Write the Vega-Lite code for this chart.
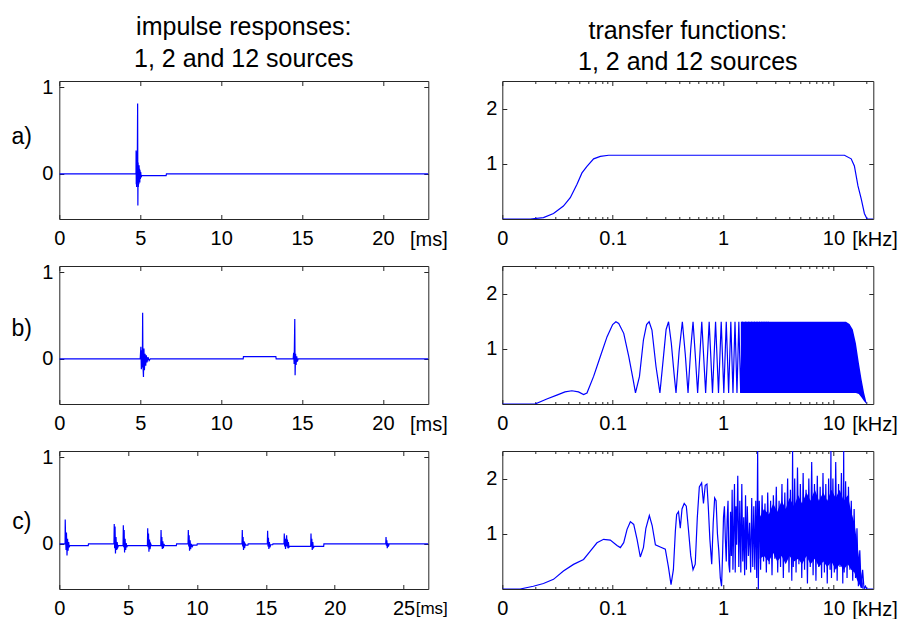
{
"$schema": "https://vega.github.io/schema/vega-lite/v6.json",
"autosize": {"type": "none"},
"padding": {"left": 59.3, "top": 81, "right": 841.7, "bottom": 538},
"bounds": "flush",
"columns": 2,
"spacing": {"row": 47, "column": 74},
"config": {
  "view": {"stroke": "#262626", "strokeWidth": 1},
  "font": "Liberation Sans",
  "axis": {"grid": false, "domain": false, "ticks": true, "tickColor": "#262626", "tickSize": -4.5, "tickWidth": 1,
    "labelFont": "Liberation Sans", "labelFontSize": 20, "labelColor": "#000", "labelPadding": 11, "labelFlush": false, "labelOverlap": false,
    "titleFont": "Liberation Sans", "titleFontWeight": "normal", "titleColor": "#000", "titleFontSize": 20},
  "axisX": {"labelPadding": 14},
  "title": {"font": "Liberation Sans", "fontSize": 25, "fontWeight": "normal", "color": "#000", "lineHeight": 31.7, "offset": 5, "anchor": "middle"}
},
"datasets": {
"ir1": [{"t":0,"v":0},{"t":4.74,"v":0},{"t":4.745,"v":0.27},{"t":4.755,"v":-0.12},{"t":4.765,"v":0.25},{"t":4.775,"v":-0.15},{"t":4.785,"v":0.2},{"t":4.8,"v":-0.1},{"t":4.82,"v":0.15},{"t":4.84,"v":0.81},{"t":4.855,"v":-0.365},{"t":4.87,"v":0.13},{"t":4.885,"v":-0.15},{"t":4.9,"v":0.1},{"t":4.915,"v":-0.12},{"t":4.93,"v":0.1},{"t":4.945,"v":-0.08},{"t":4.96,"v":0.06},{"t":4.975,"v":-0.1},{"t":4.99,"v":0.04},{"t":5.01,"v":-0.06},{"t":5.03,"v":0.02},{"t":5.06,"v":-0.04},{"t":5.09,"v":-0.02},{"t":6.6,"v":-0.02},{"t":6.62,"v":0},{"t":22.8,"v":0}],
"ir2": [{"t":0,"v":0},{"t":5.0,"v":0},{"t":5.04,"v":0.14},{"t":5.07,"v":-0.12},{"t":5.1,"v":0.1},{"t":5.13,"v":-0.1},{"t":5.15,"v":0.53},{"t":5.17,"v":-0.08},{"t":5.2,"v":-0.21},{"t":5.23,"v":0.12},{"t":5.26,"v":-0.13},{"t":5.3,"v":0.06},{"t":5.34,"v":-0.08},{"t":5.38,"v":0.04},{"t":5.42,"v":-0.04},{"t":5.48,"v":0.02},{"t":5.55,"v":-0.02},{"t":5.62,"v":0},{"t":11.36,"v":0},{"t":11.38,"v":0.027},{"t":13.38,"v":0.027},{"t":13.4,"v":0},{"t":14.45,"v":0},{"t":14.48,"v":0.07},{"t":14.51,"v":-0.06},{"t":14.55,"v":0.46},{"t":14.57,"v":-0.19},{"t":14.6,"v":0.06},{"t":14.63,"v":-0.07},{"t":14.67,"v":0.03},{"t":14.71,"v":-0.03},{"t":14.76,"v":0},{"t":22.8,"v":0}],
"ir12": [{"t":0,"v":0},{"t":0.42,"v":0},{"t":0.43,"v":0.28},{"t":0.46,"v":0.05},{"t":0.49,"v":-0.07},{"t":0.52,"v":0.13},{"t":0.56,"v":-0.135},{"t":0.6,"v":0.06},{"t":0.64,"v":-0.08},{"t":0.68,"v":0.02},{"t":0.72,"v":-0.04},{"t":0.76,"v":-0.02},{"t":2.1,"v":-0.02},{"t":2.12,"v":0},{"t":3.97,"v":0},{"t":3.99,"v":0.23},{"t":4.02,"v":-0.05},{"t":4.05,"v":0.2},{"t":4.08,"v":-0.11},{"t":4.12,"v":0.08},{"t":4.16,"v":-0.07},{"t":4.2,"v":0.02},{"t":4.25,"v":-0.04},{"t":4.3,"v":-0.02},{"t":4.63,"v":-0.02},{"t":4.65,"v":0.215},{"t":4.68,"v":-0.04},{"t":4.71,"v":0.16},{"t":4.74,"v":-0.1},{"t":4.78,"v":0.06},{"t":4.82,"v":-0.07},{"t":4.86,"v":0.01},{"t":4.9,"v":-0.04},{"t":4.95,"v":-0.02},{"t":6.4,"v":-0.02},{"t":6.42,"v":0.18},{"t":6.45,"v":-0.04},{"t":6.48,"v":0.12},{"t":6.51,"v":-0.09},{"t":6.55,"v":0.05},{"t":6.59,"v":-0.06},{"t":6.64,"v":0},{"t":6.69,"v":-0.02},{"t":7.37,"v":-0.02},{"t":7.39,"v":0.16},{"t":7.42,"v":-0.03},{"t":7.45,"v":0.08},{"t":7.48,"v":-0.06},{"t":7.52,"v":0.03},{"t":7.56,"v":-0.05},{"t":7.6,"v":0},{"t":7.65,"v":-0.02},{"t":8.5,"v":-0.02},{"t":8.52,"v":0},{"t":9.35,"v":0},{"t":9.37,"v":0.16},{"t":9.4,"v":-0.03},{"t":9.43,"v":0.1},{"t":9.46,"v":-0.08},{"t":9.5,"v":0.04},{"t":9.54,"v":-0.06},{"t":9.6,"v":0},{"t":9.66,"v":-0.03},{"t":9.72,"v":-0.015},{"t":10.0,"v":-0.015},{"t":10.02,"v":0},{"t":13.27,"v":0},{"t":13.29,"v":0.16},{"t":13.32,"v":-0.03},{"t":13.35,"v":0.08},{"t":13.38,"v":-0.07},{"t":13.42,"v":0.03},{"t":13.46,"v":-0.05},{"t":13.5,"v":0},{"t":13.55,"v":-0.015},{"t":13.7,"v":-0.015},{"t":13.72,"v":0},{"t":15.11,"v":0},{"t":15.13,"v":0.15},{"t":15.16,"v":-0.03},{"t":15.19,"v":0.07},{"t":15.22,"v":-0.06},{"t":15.26,"v":0.02},{"t":15.3,"v":-0.04},{"t":15.35,"v":-0.01},{"t":15.5,"v":-0.01},{"t":15.52,"v":0},{"t":16.32,"v":0},{"t":16.34,"v":0.12},{"t":16.37,"v":-0.03},{"t":16.4,"v":0.06},{"t":16.43,"v":-0.06},{"t":16.51,"v":0.1},{"t":16.54,"v":-0.03},{"t":16.57,"v":0.05},{"t":16.6,"v":-0.05},{"t":16.64,"v":0.02},{"t":16.68,"v":-0.04},{"t":16.73,"v":-0.03},{"t":18.26,"v":-0.03},{"t":18.28,"v":0.12},{"t":18.31,"v":-0.03},{"t":18.34,"v":0.06},{"t":18.37,"v":-0.07},{"t":18.41,"v":0.02},{"t":18.45,"v":-0.05},{"t":18.5,"v":-0.03},{"t":19.2,"v":-0.03},{"t":19.22,"v":0},{"t":23.71,"v":0},{"t":23.73,"v":0.08},{"t":23.76,"v":-0.02},{"t":23.79,"v":0.04},{"t":23.82,"v":-0.05},{"t":23.86,"v":0.01},{"t":23.9,"v":-0.03},{"t":23.96,"v":0},{"t":26.8,"v":0}],
"tf1": [{"f":0.01,"v":0},{"f":0.0179,"v":0},{"f":0.0236,"v":0.024},{"f":0.0291,"v":0.1},{"f":0.0358,"v":0.235},{"f":0.0413,"v":0.385},{"f":0.0474,"v":0.625},{"f":0.0527,"v":0.835},{"f":0.0585,"v":0.955},{"f":0.0672,"v":1.09},{"f":0.0773,"v":1.135},{"f":0.092,"v":1.155},{"f":12.6,"v":1.155},{"f":14.5,"v":1.09},{"f":15.5,"v":0.96},{"f":16.7,"v":0.6},{"f":17.9,"v":0.36},{"f":19.1,"v":0.1},{"f":20.2,"v":0},{"f":23,"v":0}],
"tf2": [{"f":0.01,"v":0},{"f":0.0198,"v":0},{"f":0.0253,"v":0.09},{"f":0.0312,"v":0.16},{"f":0.037,"v":0.22},{"f":0.0427,"v":0.24},{"f":0.049,"v":0.22},{"f":0.0545,"v":0.17},{"f":0.0585,"v":0.2},{"f":0.0672,"v":0.5},{"f":0.0773,"v":0.86},{"f":0.089,"v":1.22},{"f":0.1,"v":1.44},{"f":0.107,"v":1.49},{"f":0.1135,"v":1.46},{"f":0.126,"v":1.28},{"f":0.14,"v":0.86},{"f":0.153,"v":0.45},{"f":0.161,"v":0.2},{"f":0.175,"v":0.5},{"f":0.19,"v":1.16},{"f":0.203,"v":1.44},{"f":0.214,"v":1.49},{"f":0.227,"v":1.34},{"f":0.247,"v":0.68},{"f":0.268,"v":0.2},{"f":0.29,"v":0.9},{"f":0.305,"v":1.35},{"f":0.321,"v":1.49},{"f":0.34,"v":1.1},{"f":0.36,"v":0.55},{"f":0.375,"v":0.2},{"f":0.4,"v":0.95},{"f":0.428,"v":1.49},{"f":0.455,"v":0.9},{"f":0.482,"v":0.2},{"f":0.51,"v":1.0},{"f":0.535,"v":1.49},{"f":0.56,"v":0.9},{"f":0.589,"v":0.2},{"f":0.642,"v":1.49},{"f":0.696,"v":0.2},{"f":0.749,"v":1.49},{"f":0.803,"v":0.2},{"f":0.856,"v":1.49},{"f":0.91,"v":0.2},{"f":0.963,"v":1.49},{"f":1.017,"v":0.2},{"f":1.07,"v":1.49},{"f":1.124,"v":0.2},{"f":1.177,"v":1.49},{"f":1.231,"v":0.2},{"f":1.284,"v":1.49},{"f":1.338,"v":0.2},{"f":1.391,"v":1.49},{"f":1.445,"v":0.2},{"f":1.498,"v":1.49},{"f":1.552,"v":0.2},{"f":1.605,"v":1.49},{"f":1.659,"v":0.2},{"f":1.712,"v":1.49},{"f":1.766,"v":0.2},{"f":1.819,"v":1.49},{"f":1.873,"v":0.2},{"f":1.926,"v":1.49},{"f":1.98,"v":0.2},{"f":2.033,"v":1.49},{"f":2.087,"v":0.2},{"f":2.14,"v":1.49},{"f":2.194,"v":0.2},{"f":2.247,"v":1.49},{"f":2.301,"v":0.2},{"f":2.354,"v":1.49},{"f":2.408,"v":0.2},{"f":2.461,"v":1.49},{"f":2.515,"v":0.2},{"f":2.568,"v":1.49},{"f":2.622,"v":0.2}],
"tf2band": [{"f":1.45,"lo":0.2,"hi":1.49},{"f":13.0,"lo":0.2,"hi":1.49},{"f":14.0,"lo":0.2,"hi":1.45},{"f":15.0,"lo":0.2,"hi":1.35},{"f":16.0,"lo":0.2,"hi":1.1},{"f":17.0,"lo":0.18,"hi":0.75},{"f":18.0,"lo":0.12,"hi":0.45},{"f":19.0,"lo":0.05,"hi":0.2},{"f":20.0,"lo":0,"hi":0.02}],
"tf12band": [{"f":2.15,"lo":0.55,"hi":1.3},{"f":2.35,"lo":0.6,"hi":1.45},{"f":2.6,"lo":0.5,"hi":1.35},{"f":2.85,"lo":0.65,"hi":1.55},{"f":3.1,"lo":0.5,"hi":1.4},{"f":3.4,"lo":0.6,"hi":1.6},{"f":3.7,"lo":0.45,"hi":1.45},{"f":4.0,"lo":0.6,"hi":1.65},{"f":4.4,"lo":0.5,"hi":1.5},{"f":4.8,"lo":0.55,"hi":1.7},{"f":5.2,"lo":0.45,"hi":1.55},{"f":5.7,"lo":0.6,"hi":1.75},{"f":6.2,"lo":0.45,"hi":1.6},{"f":6.8,"lo":0.55,"hi":1.8},{"f":7.4,"lo":0.4,"hi":1.6},{"f":8.1,"lo":0.5,"hi":1.75},{"f":8.8,"lo":0.4,"hi":1.6},{"f":9.6,"lo":0.5,"hi":1.8},{"f":10.5,"lo":0.35,"hi":1.65},{"f":11.4,"lo":0.45,"hi":1.8},{"f":12.4,"lo":0.35,"hi":1.6},{"f":13.5,"lo":0.45,"hi":1.7},{"f":14.5,"lo":0.35,"hi":1.4},{"f":15.5,"lo":0.3,"hi":1.2},{"f":16.5,"lo":0.15,"hi":0.8},{"f":17.5,"lo":0.05,"hi":0.4},{"f":18.5,"lo":0,"hi":0.1}],
"tf12": [{"f":0.01,"v":0},{"f":0.0145,"v":0},{"f":0.0191,"v":0.05},{"f":0.0236,"v":0.1},{"f":0.0291,"v":0.175},{"f":0.0358,"v":0.325},{"f":0.0442,"v":0.446},{"f":0.0545,"v":0.536},{"f":0.0627,"v":0.687},{"f":0.0721,"v":0.837},{"f":0.0828,"v":0.9},{"f":0.0952,"v":0.886},{"f":0.1095,"v":0.789},{"f":0.1174,"v":0.75},{"f":0.1259,"v":0.84},{"f":0.135,"v":1.08},{"f":0.1447,"v":1.22},{"f":0.1552,"v":1.17},{"f":0.1664,"v":0.9},{"f":0.178,"v":0.58},{"f":0.19,"v":0.75},{"f":0.2,"v":1.1},{"f":0.215,"v":1.33},{"f":0.228,"v":1.15},{"f":0.244,"v":0.8},{"f":0.27,"v":0.76},{"f":0.3,"v":0.72},{"f":0.32,"v":0.4},{"f":0.338,"v":0.08},{"f":0.355,"v":0.35},{"f":0.37,"v":1.05},{"f":0.38,"v":1.35},{"f":0.395,"v":1.4},{"f":0.41,"v":1.1},{"f":0.425,"v":1.45},{"f":0.445,"v":1.55},{"f":0.465,"v":1.5},{"f":0.485,"v":1.1},{"f":0.51,"v":0.6},{"f":0.535,"v":0.35},{"f":0.56,"v":0.45},{"f":0.585,"v":1.3},{"f":0.61,"v":1.85},{"f":0.64,"v":1.92},{"f":0.665,"v":1.55},{"f":0.69,"v":1.88},{"f":0.715,"v":1.9},{"f":0.735,"v":1.5},{"f":0.76,"v":0.9},{"f":0.79,"v":0.45},{"f":0.815,"v":1.2},{"f":0.84,"v":1.65},{"f":0.865,"v":1.6},{"f":0.89,"v":1.0},{"f":0.915,"v":0.7},{"f":0.945,"v":0.2},{"f":0.97,"v":0.05},{"f":0.99,"v":0.6},{"f":1.01,"v":1.3},{"f":1.03,"v":1.5},{"f":1.05,"v":0.9},{"f":1.07,"v":0.5},{"f":1.09,"v":1.25},{"f":1.11,"v":1.6},{"f":1.13,"v":0.45},{"f":1.15,"v":0.3},{"f":1.17,"v":1.4},{"f":1.19,"v":0.6},{"f":1.21,"v":1.8},{"f":1.23,"v":0.35},{"f":1.25,"v":1.1},{"f":1.27,"v":1.9},{"f":1.29,"v":0.3},{"f":1.31,"v":1.5},{"f":1.33,"v":0.8},{"f":1.36,"v":2.05},{"f":1.39,"v":0.4},{"f":1.42,"v":1.6},{"f":1.45,"v":0.3},{"f":1.48,"v":1.9},{"f":1.51,"v":0.5},{"f":1.54,"v":1.3},{"f":1.57,"v":0.25},{"f":1.6,"v":1.7},{"f":1.63,"v":0.35},{"f":1.66,"v":1.5},{"f":1.7,"v":0.6},{"f":1.74,"v":1.2},{"f":1.78,"v":0.3},{"f":1.82,"v":1.65},{"f":1.86,"v":0.4},{"f":1.9,"v":1.5},{"f":1.94,"v":0.35},{"f":1.98,"v":1.6},{"f":2.02,"v":0.2},{"f":2.06,"v":2.5},{"f":2.09,"v":0},{"f":2.13,"v":1.6},{"f":2.19,"v":0.35},{"f":2.26,"v":1.7},{"f":2.33,"v":0.5},{"f":2.4,"v":1.55},{"f":2.47,"v":0.3},{"f":2.54,"v":1.75},{"f":2.62,"v":0.45},{"f":2.7,"v":1.6},{"f":2.78,"v":0.25},{"f":2.86,"v":1.7},{"f":2.95,"v":0.55},{"f":3.04,"v":1.85},{"f":3.13,"v":0.3},{"f":3.22,"v":1.6},{"f":3.32,"v":0.4},{"f":3.42,"v":1.9},{"f":3.52,"v":0.2},{"f":3.63,"v":1.75},{"f":3.73,"v":0.5},{"f":3.85,"v":2.0},{"f":3.96,"v":0.3},{"f":4.08,"v":1.8},{"f":4.2,"v":0.15},{"f":4.27,"v":2.5},{"f":4.33,"v":0.4},{"f":4.46,"v":2.0},{"f":4.59,"v":0.3},{"f":4.73,"v":2.2},{"f":4.87,"v":0.45},{"f":5.02,"v":1.9},{"f":5.17,"v":0.2},{"f":5.32,"v":2.1},{"f":5.48,"v":0.35},{"f":5.65,"v":1.8},{"f":5.82,"v":0.1},{"f":5.99,"v":2.0},{"f":6.17,"v":0.4},{"f":6.36,"v":2.3},{"f":6.55,"v":0.25},{"f":6.74,"v":1.9},{"f":6.95,"v":0.15},{"f":7.15,"v":2.05},{"f":7.37,"v":0.4},{"f":7.59,"v":1.85},{"f":7.82,"v":0.2},{"f":8.05,"v":2.1},{"f":8.29,"v":0.3},{"f":8.54,"v":1.9},{"f":8.8,"v":0.1},{"f":9.06,"v":2.0},{"f":9.33,"v":0.35},{"f":9.5,"v":2.5},{"f":9.61,"v":0.2},{"f":9.9,"v":2.0},{"f":10.2,"v":0.3},{"f":10.5,"v":2.3},{"f":10.82,"v":0.15},{"f":11.14,"v":1.9},{"f":11.48,"v":0.4},{"f":11.82,"v":2.1},{"f":12.17,"v":0.1},{"f":12.4,"v":2.5},{"f":12.54,"v":0.3},{"f":12.91,"v":1.95},{"f":13.3,"v":0.2},{"f":13.7,"v":1.85},{"f":14.11,"v":0.35},{"f":14.53,"v":1.6},{"f":14.97,"v":0.15},{"f":15.42,"v":1.45},{"f":15.88,"v":0.2},{"f":16.36,"v":1.1},{"f":16.85,"v":0.05},{"f":17.35,"v":0.7},{"f":17.87,"v":0.02},{"f":18.41,"v":0.35},{"f":18.96,"v":0},{"f":19.53,"v":0.05},{"f":20.0,"v":0},{"f":23,"v":0}]
},
"concat": [
{
  "width": 369, "height": 138,
  "title": {"text": ["impulse responses:", "1, 2 and 12 sources"]},
  "layer": [
    {"data": {"name": "ir1"}, "mark": {"type": "line", "color": "#0000ff", "strokeWidth": 1.2, "clip": true},
     "encoding": {
      "x": {"field": "t", "type": "quantitative", "scale": {"domain": [0, 22.8], "nice": false, "zero": false},
        "axis": {"orient": "bottom", "values": [0,5,10,15,20], "title": "[ms]", "titleX": 388, "titleY": 10, "titleAlign": "right", "titleBaseline": "top"}},
      "y": {"field": "v", "type": "quantitative", "scale": {"domain": [-0.52, 1.07], "nice": false, "zero": false},
        "axis": {"orient": "left", "values": [0,1], "title": "a)", "titleAngle": 0, "titleX": -38, "titleY": 55, "titleAlign": "center", "titleBaseline": "middle", "titleFontSize": 23}}}},
    {"data": {"name": "ir1"}, "mark": {"type": "line", "strokeOpacity": 0},
     "encoding": {
      "x": {"field": "t", "type": "quantitative", "scale": {"domain": [0, 22.8], "nice": false, "zero": false}, "axis": {"orient": "top", "values": [0,5,10,15,20], "labels": false, "title": null}},
      "y": {"field": "v", "type": "quantitative", "scale": {"domain": [-0.52, 1.07], "nice": false, "zero": false}, "axis": {"orient": "right", "values": [0,1], "labels": false, "title": null}}}}
  ],
  "resolve": {"axis": {"x": "independent", "y": "independent"}}
},
{
  "width": 371, "height": 138,
  "title": {"text": ["transfer functions:", "1, 2 and 12 sources"]},
  "layer": [
    {"data": {"name": "tf1"}, "mark": {"type": "line", "color": "#0000ff", "strokeWidth": 1.2, "clip": true},
     "encoding": {
      "x": {"field": "f", "type": "quantitative", "scale": {"type": "log", "domain": [0.01, 23], "nice": false},
        "axis": {"orient": "bottom", "values": [0.01,0.1,1,10], "labelExpr": "datum.value < 0.05 ? '0' : datum.value < 0.5 ? '0.1' : datum.value < 5 ? '1' : '10'", "title": "[kHz]", "titleX": 395, "titleY": 10, "titleAlign": "right", "titleBaseline": "top"}},
      "y": {"field": "v", "type": "quantitative", "scale": {"domain": [0, 2.5], "nice": false, "zero": false},
        "axis": {"orient": "left", "values": [1,2], "labelPadding": 10, "title": null}}}},
    {"data": {"name": "tf1"}, "mark": {"type": "line", "strokeOpacity": 0},
     "encoding": {
      "x": {"field": "f", "type": "quantitative", "scale": {"type": "log", "domain": [0.01, 23], "nice": false}, "axis": {"orient": "top", "values": [0.01,0.1,1,10], "labels": false, "title": null}},
      "y": {"field": "v", "type": "quantitative", "scale": {"domain": [0, 2.5], "nice": false, "zero": false}, "axis": {"orient": "right", "values": [1,2], "labels": false, "title": null}}}},
    {"data": {"name": "tf1"}, "mark": {"type": "line", "strokeOpacity": 0},
     "encoding": {
      "x": {"field": "f", "type": "quantitative", "scale": {"type": "log", "domain": [0.01, 23], "nice": false}, "axis": {"orient": "bottom", "values": [0.02,0.03,0.04,0.05,0.06,0.07,0.08,0.09,0.2,0.3,0.4,0.5,0.6,0.7,0.8,0.9,2,3,4,5,6,7,8,9,20], "tickSize": -2.5, "labels": false, "title": null}},
      "y": {"field": "v", "type": "quantitative", "scale": {"domain": [0, 2.5], "nice": false, "zero": false}, "axis": null}}},
    {"data": {"name": "tf1"}, "mark": {"type": "line", "strokeOpacity": 0},
     "encoding": {
      "x": {"field": "f", "type": "quantitative", "scale": {"type": "log", "domain": [0.01, 23], "nice": false}, "axis": {"orient": "top", "values": [0.02,0.03,0.04,0.05,0.06,0.07,0.08,0.09,0.2,0.3,0.4,0.5,0.6,0.7,0.8,0.9,2,3,4,5,6,7,8,9,20], "tickSize": -2.5, "labels": false, "title": null}},
      "y": {"field": "v", "type": "quantitative", "scale": {"domain": [0, 2.5], "nice": false, "zero": false}, "axis": null}}}
  ],
  "resolve": {"axis": {"x": "independent", "y": "independent"}}
},
{
  "width": 369, "height": 138,
  "layer": [
    {"data": {"name": "ir2"}, "mark": {"type": "line", "color": "#0000ff", "strokeWidth": 1.2, "clip": true},
     "encoding": {
      "x": {"field": "t", "type": "quantitative", "scale": {"domain": [0, 22.8], "nice": false, "zero": false},
        "axis": {"orient": "bottom", "values": [0,5,10,15,20], "title": "[ms]", "titleX": 388, "titleY": 10, "titleAlign": "right", "titleBaseline": "top"}},
      "y": {"field": "v", "type": "quantitative", "scale": {"domain": [-0.52, 1.07], "nice": false, "zero": false},
        "axis": {"orient": "left", "values": [0,1], "title": "b)", "titleAngle": 0, "titleX": -38, "titleY": 62, "titleAlign": "center", "titleBaseline": "middle", "titleFontSize": 23}}}},
    {"data": {"name": "ir2"}, "mark": {"type": "line", "strokeOpacity": 0},
     "encoding": {
      "x": {"field": "t", "type": "quantitative", "scale": {"domain": [0, 22.8], "nice": false, "zero": false}, "axis": {"orient": "top", "values": [0,5,10,15,20], "labels": false, "title": null}},
      "y": {"field": "v", "type": "quantitative", "scale": {"domain": [-0.52, 1.07], "nice": false, "zero": false}, "axis": {"orient": "right", "values": [0,1], "labels": false, "title": null}}}}
  ],
  "resolve": {"axis": {"x": "independent", "y": "independent"}}
},
{
  "width": 371, "height": 138,
  "layer": [
    {"data": {"name": "tf2band"}, "mark": {"type": "area", "color": "#0000ff", "clip": true},
     "encoding": {
      "x": {"field": "f", "type": "quantitative", "scale": {"type": "log", "domain": [0.01, 23], "nice": false}, "axis": null},
      "y": {"field": "hi", "type": "quantitative", "scale": {"domain": [0, 2.5], "nice": false, "zero": false}, "axis": null},
      "y2": {"field": "lo"}}},
    {"data": {"name": "tf2"}, "mark": {"type": "line", "color": "#0000ff", "strokeWidth": 1.2, "clip": true},
     "encoding": {
      "x": {"field": "f", "type": "quantitative", "scale": {"type": "log", "domain": [0.01, 23], "nice": false},
        "axis": {"orient": "bottom", "values": [0.01,0.1,1,10], "labelExpr": "datum.value < 0.05 ? '0' : datum.value < 0.5 ? '0.1' : datum.value < 5 ? '1' : '10'", "title": "[kHz]", "titleX": 395, "titleY": 10, "titleAlign": "right", "titleBaseline": "top"}},
      "y": {"field": "v", "type": "quantitative", "scale": {"domain": [0, 2.5], "nice": false, "zero": false},
        "axis": {"orient": "left", "values": [1,2], "labelPadding": 10, "title": null}}}},
    {"data": {"name": "tf2"}, "mark": {"type": "line", "strokeOpacity": 0},
     "encoding": {
      "x": {"field": "f", "type": "quantitative", "scale": {"type": "log", "domain": [0.01, 23], "nice": false}, "axis": {"orient": "top", "values": [0.01,0.1,1,10], "labels": false, "title": null}},
      "y": {"field": "v", "type": "quantitative", "scale": {"domain": [0, 2.5], "nice": false, "zero": false}, "axis": {"orient": "right", "values": [1,2], "labels": false, "title": null}}}},
    {"data": {"name": "tf2"}, "mark": {"type": "line", "strokeOpacity": 0},
     "encoding": {
      "x": {"field": "f", "type": "quantitative", "scale": {"type": "log", "domain": [0.01, 23], "nice": false}, "axis": {"orient": "bottom", "values": [0.02,0.03,0.04,0.05,0.06,0.07,0.08,0.09,0.2,0.3,0.4,0.5,0.6,0.7,0.8,0.9,2,3,4,5,6,7,8,9,20], "tickSize": -2.5, "labels": false, "title": null}},
      "y": {"field": "v", "type": "quantitative", "scale": {"domain": [0, 2.5], "nice": false, "zero": false}, "axis": null}}},
    {"data": {"name": "tf2"}, "mark": {"type": "line", "strokeOpacity": 0},
     "encoding": {
      "x": {"field": "f", "type": "quantitative", "scale": {"type": "log", "domain": [0.01, 23], "nice": false}, "axis": {"orient": "top", "values": [0.02,0.03,0.04,0.05,0.06,0.07,0.08,0.09,0.2,0.3,0.4,0.5,0.6,0.7,0.8,0.9,2,3,4,5,6,7,8,9,20], "tickSize": -2.5, "labels": false, "title": null}},
      "y": {"field": "v", "type": "quantitative", "scale": {"domain": [0, 2.5], "nice": false, "zero": false}, "axis": null}}}
  ],
  "resolve": {"axis": {"x": "independent", "y": "independent"}}
},
{
  "width": 369, "height": 138,
  "layer": [
    {"data": {"name": "ir12"}, "mark": {"type": "line", "color": "#0000ff", "strokeWidth": 1.2, "clip": true},
     "encoding": {
      "x": {"field": "t", "type": "quantitative", "scale": {"domain": [0, 26.8], "nice": false, "zero": false},
        "axis": {"orient": "bottom", "values": [0,5,10,15,20,25], "title": "[ms]", "titleX": 388, "titleY": 11, "titleAlign": "right", "titleBaseline": "top", "titleFontSize": 17}},
      "y": {"field": "v", "type": "quantitative", "scale": {"domain": [-0.52, 1.07], "nice": false, "zero": false},
        "axis": {"orient": "left", "values": [0,1], "title": "c)", "titleAngle": 0, "titleX": -38, "titleY": 70, "titleAlign": "center", "titleBaseline": "middle", "titleFontSize": 23}}}},
    {"data": {"name": "ir12"}, "mark": {"type": "line", "strokeOpacity": 0},
     "encoding": {
      "x": {"field": "t", "type": "quantitative", "scale": {"domain": [0, 26.8], "nice": false, "zero": false}, "axis": {"orient": "top", "values": [0,5,10,15,20,25], "labels": false, "title": null}},
      "y": {"field": "v", "type": "quantitative", "scale": {"domain": [-0.52, 1.07], "nice": false, "zero": false}, "axis": {"orient": "right", "values": [0,1], "labels": false, "title": null}}}}
  ],
  "resolve": {"axis": {"x": "independent", "y": "independent"}}
},
{
  "width": 371, "height": 138,
  "layer": [
    {"data": {"name": "tf12band"}, "mark": {"type": "area", "color": "#0000ff", "clip": true},
     "encoding": {
      "x": {"field": "f", "type": "quantitative", "scale": {"type": "log", "domain": [0.01, 23], "nice": false}, "axis": null},
      "y": {"field": "hi", "type": "quantitative", "scale": {"domain": [0, 2.5], "nice": false, "zero": false}, "axis": null},
      "y2": {"field": "lo"}}},
    {"data": {"name": "tf12"}, "mark": {"type": "line", "color": "#0000ff", "strokeWidth": 1.2, "clip": true},
     "encoding": {
      "x": {"field": "f", "type": "quantitative", "scale": {"type": "log", "domain": [0.01, 23], "nice": false},
        "axis": {"orient": "bottom", "values": [0.01,0.1,1,10], "labelExpr": "datum.value < 0.05 ? '0' : datum.value < 0.5 ? '0.1' : datum.value < 5 ? '1' : '10'", "title": "[kHz]", "titleX": 395, "titleY": 10, "titleAlign": "right", "titleBaseline": "top"}},
      "y": {"field": "v", "type": "quantitative", "scale": {"domain": [0, 2.5], "nice": false, "zero": false},
        "axis": {"orient": "left", "values": [1,2], "labelPadding": 10, "title": null}}}},
    {"data": {"name": "tf12"}, "mark": {"type": "line", "strokeOpacity": 0},
     "encoding": {
      "x": {"field": "f", "type": "quantitative", "scale": {"type": "log", "domain": [0.01, 23], "nice": false}, "axis": {"orient": "top", "values": [0.01,0.1,1,10], "labels": false, "title": null}},
      "y": {"field": "v", "type": "quantitative", "scale": {"domain": [0, 2.5], "nice": false, "zero": false}, "axis": {"orient": "right", "values": [1,2], "labels": false, "title": null}}}},
    {"data": {"name": "tf12"}, "mark": {"type": "line", "strokeOpacity": 0},
     "encoding": {
      "x": {"field": "f", "type": "quantitative", "scale": {"type": "log", "domain": [0.01, 23], "nice": false}, "axis": {"orient": "bottom", "values": [0.02,0.03,0.04,0.05,0.06,0.07,0.08,0.09,0.2,0.3,0.4,0.5,0.6,0.7,0.8,0.9,2,3,4,5,6,7,8,9,20], "tickSize": -2.5, "labels": false, "title": null}},
      "y": {"field": "v", "type": "quantitative", "scale": {"domain": [0, 2.5], "nice": false, "zero": false}, "axis": null}}},
    {"data": {"name": "tf12"}, "mark": {"type": "line", "strokeOpacity": 0},
     "encoding": {
      "x": {"field": "f", "type": "quantitative", "scale": {"type": "log", "domain": [0.01, 23], "nice": false}, "axis": {"orient": "top", "values": [0.02,0.03,0.04,0.05,0.06,0.07,0.08,0.09,0.2,0.3,0.4,0.5,0.6,0.7,0.8,0.9,2,3,4,5,6,7,8,9,20], "tickSize": -2.5, "labels": false, "title": null}},
      "y": {"field": "v", "type": "quantitative", "scale": {"domain": [0, 2.5], "nice": false, "zero": false}, "axis": null}}}
  ],
  "resolve": {"axis": {"x": "independent", "y": "independent"}}
}
]
}
